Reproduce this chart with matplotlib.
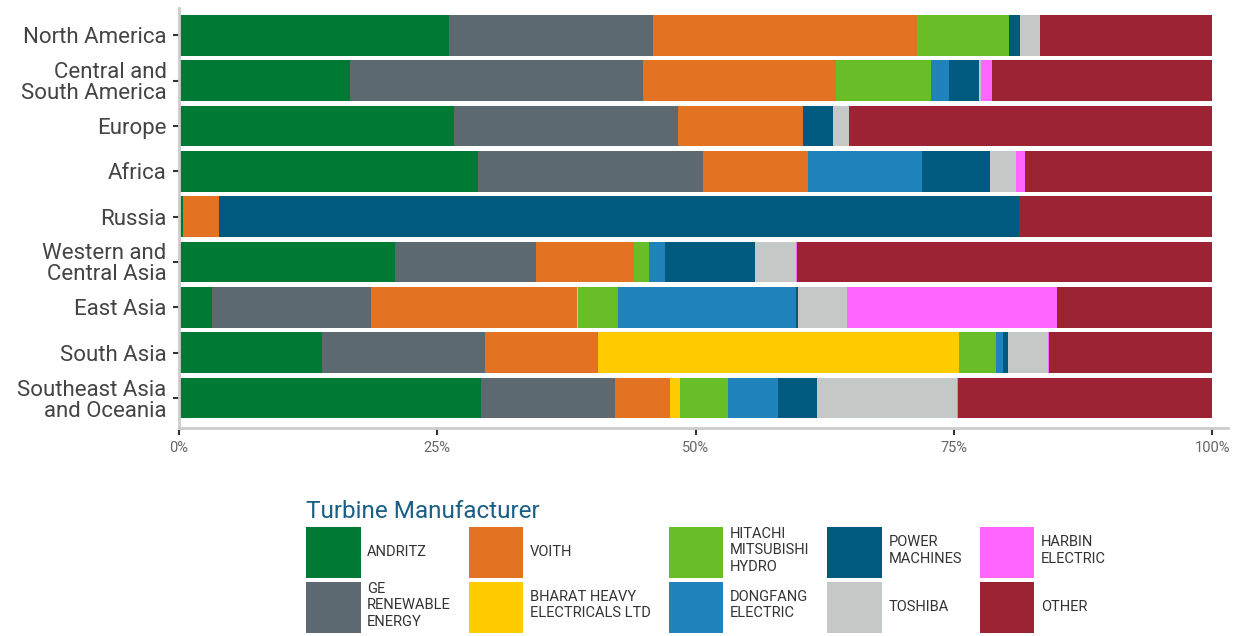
import numpy as np
import matplotlib
matplotlib.use("Agg")
import matplotlib.pyplot as plt
from matplotlib.patches import Patch

plt.rcParams['font.family'] = ['Roboto', 'DejaVu Sans']

regions = ["North America", "Central and\nSouth America", "Europe", "Africa", "Russia",
           "Western and\nCentral Asia", "East Asia", "South Asia", "Southeast Asia\nand Oceania"]

manufacturers = ["ANDRITZ", "GE\nRENEWABLE\nENERGY", "VOITH", "BHARAT HEAVY\nELECTRICALS LTD",
                 "HITACHI\nMITSUBISHI\nHYDRO", "DONGFANG\nELECTRIC", "POWER\nMACHINES",
                 "TOSHIBA", "HARBIN\nELECTRIC", "OTHER"]

colors = ["#007934", "#5d6970", "#e37222", "#ffcc00", "#69be28",
          "#2083bc", "#005a80", "#c4c9c8", "#ff66ff", "#9c2333"]

# share (%) of each manufacturer per region, columns follow `manufacturers`
andritz  = [26.1, 16.5, 26.6, 28.9,  0.4, 20.9,  3.2, 13.8, 29.2]
ge       = [19.8, 28.4, 21.7, 21.8,  0.0, 13.6, 15.4, 15.8, 13.0]
voith    = [25.5, 18.7, 12.1, 10.2,  3.5,  9.5, 19.9, 10.9,  5.3]
bhel     = [ 0.0,  0.0,  0.0,  0.0,  0.0,  0.0,  0.1, 35.0,  1.0]
hmh      = [ 8.9,  9.2,  0.0,  0.0,  0.0,  1.5,  3.9,  3.6,  4.6]
dongfang = [ 0.0,  1.7,  0.0, 11.0,  0.0,  1.5, 17.2,  0.6,  4.9]
power    = [ 1.1,  2.9,  2.9,  6.6, 77.4,  8.7,  0.2,  0.5,  3.7]
toshiba  = [ 1.9,  0.2,  1.5,  2.5,  0.0,  4.0,  4.7,  3.9, 13.6]
harbin   = [ 0.0,  1.1,  0.0,  0.9,  0.0,  0.1, 20.4,  0.1,  0.1]
other    = [16.7, 21.3, 35.2, 18.1, 18.7, 40.2, 15.0, 15.8, 24.6]

series = [andritz, ge, voith, bhel, hmh, dongfang, power, toshiba, harbin, other]

fig = plt.figure(figsize=(12.39, 6.36), dpi=100)
ax = fig.add_axes([179 / 1239, 1 - 428 / 636, (1228 - 179) / 1239, 420 / 636])

y = np.arange(len(regions))
left = np.zeros(len(regions))
for vals, col in zip(series, colors):
    vals = np.array(vals)
    ax.barh(y, vals, left=left, height=0.9, color=col, edgecolor='none')
    left += vals

ax.set_ylim(len(regions) - 1 + 0.66, -0.6)
ax.set_xlim(0, 101.5)
ax.set_yticks(y)
ax.set_yticklabels(regions, fontsize=16, color='#444444', linespacing=1.0)
ax.set_xticks([0, 25, 50, 75, 100])
ax.set_xticklabels(["0%", "25%", "50%", "75%", "100%"], fontsize=10.5, color='#666666')
ax.tick_params(axis='y', length=4, width=1.5, color='#333333', pad=5)
ax.tick_params(axis='x', length=5, width=1.5, color='#333333', pad=4)
for s in ['top', 'right']:
    ax.spines[s].set_visible(False)
for s in ['left', 'bottom']:
    ax.spines[s].set_color('#cccccc')
    ax.spines[s].set_linewidth(2)

handles = [Patch(facecolor=c, edgecolor='none') for c in colors]
leg = fig.legend(handles, manufacturers, loc='upper left',
                 bbox_to_anchor=(306 / 1239, 1 - 500 / 636), ncol=5, frameon=False,
                 fontsize=10.5, title="Turbine Manufacturer", alignment='left',
                 handlelength=3.75, handleheight=5.0, handletextpad=0.45,
                 labelspacing=0.27, columnspacing=1.22, borderpad=0, borderaxespad=0)
leg.get_title().set_fontsize(17.5)
leg.get_title().set_color('#1a5f85')
for t in leg.get_texts():
    t.set_color('#333333')

fig.savefig("out.png", dpi=100)
